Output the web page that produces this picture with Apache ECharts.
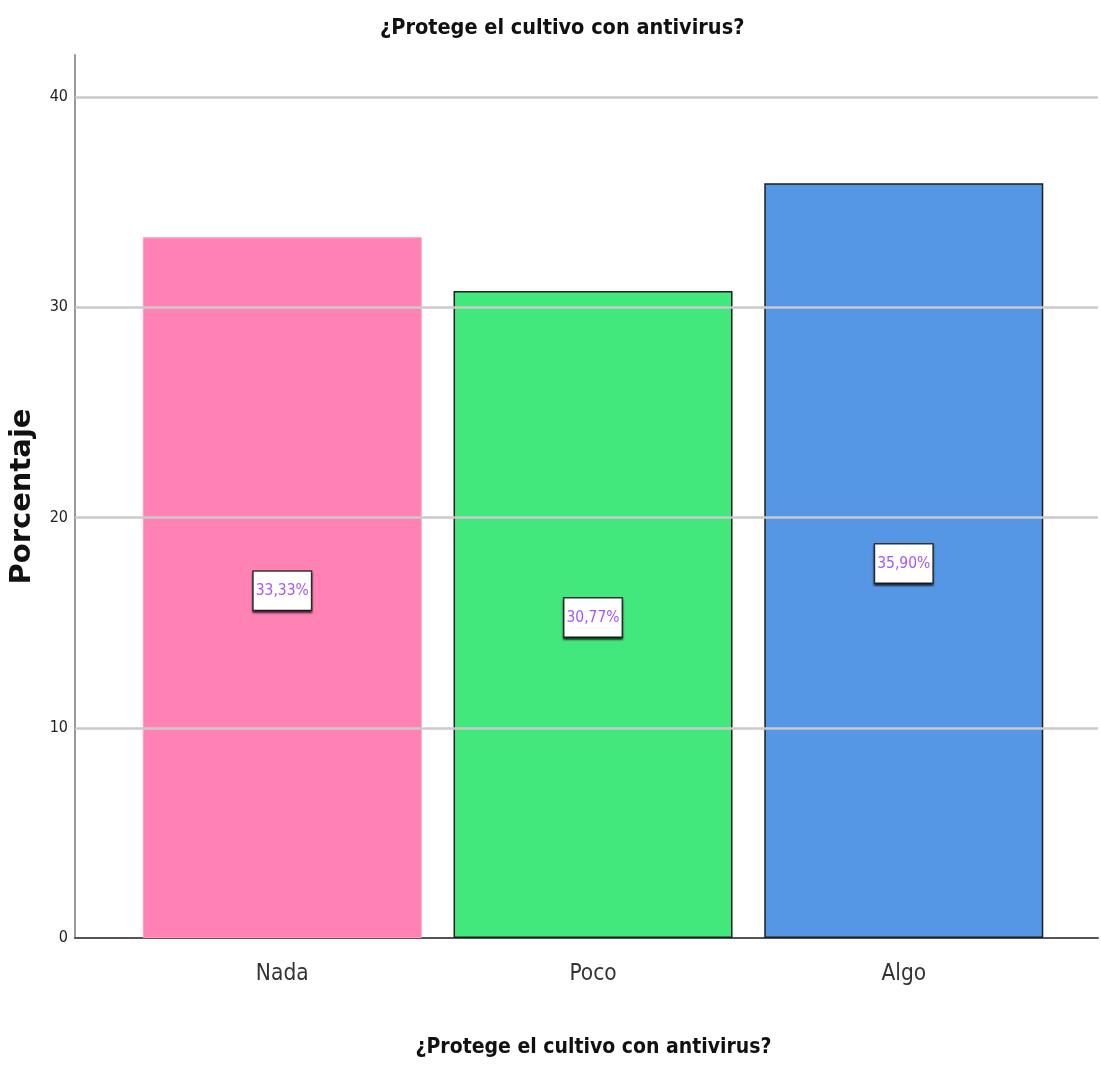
<!DOCTYPE html>
<html>
<head>
<meta charset="utf-8">
<script src="https://cdn.jsdelivr.net/npm/echarts@6/dist/echarts.min.js"></script>
<style>
html,body{margin:0;padding:0;background:#fff;}
#chart{width:1101px;height:1066px;}
</style>
</head>
<body>
<div id="chart"></div>
<script>
const titleText = '¿Protege el cultivo con antivirus?';
const categories = ['Nada', 'Poco', 'Algo'];
const values = [33.33, 30.77, 35.90];
const valueLabels = ['33,33%', '30,77%', '35,90%'];
const yTicks = [0, 10, 20, 30, 40];
const barColors = ['#ff82b4', '#42e87c', '#5597e5'];

const NARROW = "'DejaVu Sans Condensed', 'Liberation Sans Narrow', sans-serif";

const chart = echarts.init(document.getElementById('chart'), null, {renderer: 'canvas'});

const seriesData = values.map((v, i) => ({
  value: [i, v],
  itemStyle: {
    color: barColors[i],
    borderColor: i === 0 ? '#ff9cc4' : '#1e1e1e',
    borderWidth: i === 0 ? 1 : 1.5
  },
  label: {formatter: valueLabels[i]}
}));

chart.setOption({
  animation: false,
  backgroundColor: '#fff',
  title: {
    text: titleText,
    left: 380,
    top: 12,
    padding: [5, 0, 5, 0],
    textStyle: {fontFamily: NARROW, fontWeight: 'bold', fontSize: 21.5, color: '#111'}
  },
  grid: {left: 75, right: 3, top: 55, bottom: 128, containLabel: false},
  xAxis: {
    type: 'value',
    min: -0.667,
    max: 2.625,
    name: titleText,
    nameLocation: 'middle',
    nameGap: 99,
    nameTextStyle: {fontFamily: NARROW, fontWeight: 'bold', fontSize: 21, color: '#111', padding: [0, 0, 0, 14]},
    axisLine: {show: true, onZero: false, lineStyle: {color: '#555', width: 2}},
    axisTick: {show: false},
    splitLine: {show: false},
    axisLabel: {
      customValues: [0, 1, 2],
      formatter: v => categories[Math.round(v)],
      margin: 25,
      fontFamily: NARROW,
      fontSize: 22.5,
      color: '#333'
    }
  },
  yAxis: {
    type: 'value',
    min: 0,
    max: 42,
    name: 'Porcentaje',
    nameLocation: 'middle',
    nameGap: 38,
    nameRotate: 90,
    nameTextStyle: {fontFamily: "'DejaVu Sans', sans-serif", fontWeight: 'bold', fontSize: 29, color: '#111'},
    axisLine: {show: true, onZero: false, lineStyle: {color: '#999', width: 2}},
    axisTick: {show: false},
    axisLabel: {
      customValues: yTicks,
      margin: 7,
      fontFamily: NARROW,
      fontSize: 16,
      color: '#222'
    },
    splitLine: {show: false}
  },
  series: [
    {
      type: 'line',
      silent: true,
      symbol: 'none',
      data: [],
      markLine: {
        silent: true,
        symbol: 'none',
        label: {show: false},
        lineStyle: {color: '#cacaca', width: 2.5, type: 'solid'},
        data: yTicks.filter(t => t > 0).map(t => ({yAxis: t}))
      }
    },
    {
      type: 'bar',
      barWidth: 279,
      z: 3,
      data: seriesData,
      label: {
        show: true,
        position: 'inside',
        offset: [0, 3],
        fontFamily: NARROW,
        fontSize: 15.5,
        lineHeight: 18,
        color: '#a855f7',
        backgroundColor: '#ffffff',
        borderColor: '#333',
        borderWidth: 1.5,
        padding: [10, 2, 10, 2],
        shadowColor: 'rgba(0,0,0,0.55)',
        shadowOffsetY: 2,
        shadowBlur: 2
      }
    }
  ]
});
</script>
</body>
</html>
